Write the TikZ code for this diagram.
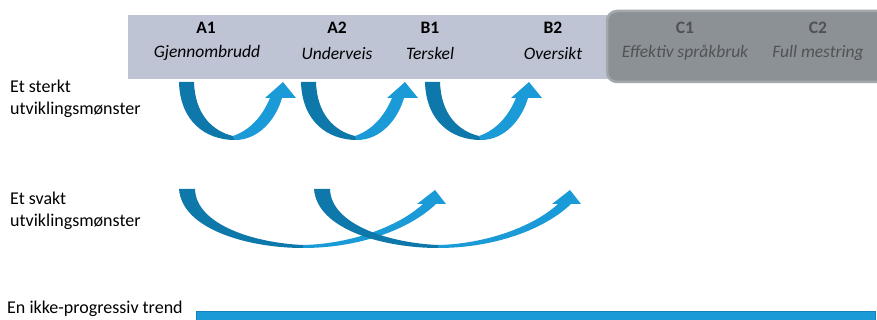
\documentclass[tikz,border=0pt]{standalone}
\usepackage{fontspec}
\setmainfont{Carlito}
\definecolor{bar}{RGB}{190,196,212}
\definecolor{cbox}{RGB}{140,145,150}
\definecolor{cboxedge}{RGB}{165,168,171}
\definecolor{ctext}{RGB}{80,82,85}
\definecolor{arrdark}{RGB}{14,120,170}
\definecolor{arrlight}{RGB}{26,155,215}
\tikzset{
  lvl/.style={font=\fontsize{17.5}{20}\selectfont\bfseries, text=black, inner sep=0pt},
  lvlname/.style={font=\fontsize{17.5}{20}\selectfont\itshape, text=black, inner sep=0pt},
  clvl/.style={lvl, text=ctext},
  clvlname/.style={lvlname, text=ctext},
  rowlabel/.style={font=\fontsize{18}{22}\selectfont, anchor=west, align=left, inner sep=0pt},
  darkpart/.style={fill=arrdark, draw=none},
  lightpart/.style={fill=arrlight, draw=none},
}
\begin{document}
\begin{tikzpicture}[x=1pt,y=-1pt]
\clip (0,0) rectangle (877,320);
\useasboundingbox (0,0) rectangle (877,320);
% header bar
\fill[bar] (128,15) rectangle (640,79);
\fill[cbox, draw=cboxedge, line width=2.5pt, rounded corners=10pt] (607,11) rectangle (890,82);
% header texts
\node[lvl] (a1) at (206,28) {A1};
\node[lvlname] (a1n) at (207,53) {Gjennombrudd};
\node[lvl] (a2) at (337,28) {A2};
\node[lvlname] (a2n) at (337,53) {Underveis};
\node[lvl] (b1) at (430,28) {B1};
\node[lvlname] (b1n) at (430,53) {Terskel};
\node[lvl] (b2) at (553,28) {B2};
\node[lvlname] (b2n) at (553,53) {Oversikt};
\node[clvl] (c1) at (685,28) {C1};
\node[clvlname] (c1n) at (685,53) {Effektiv språkbruk};
\node[clvl] (c2) at (818,28) {C2};
\node[clvlname] (c2n) at (818,53) {Full mestring};
% row labels
\node[rowlabel] (strong) at (10,99) {Et sterkt\\utviklingsmønster};
\node[rowlabel] (weak) at (10,211) {Et svakt\\utviklingsmønster};
\node[rowlabel] (flat) at (7,309) {En ikke-progressiv trend};
% strong arrows
\foreach \dx in {0,122,246}{
  \begin{scope}[xshift=\dx]
    \path[darkpart] (179,82) .. controls (180,121) and (205,140) .. (235,140)
      -- (233,136) .. controls (212,131) and (195,114) .. (194,82) -- cycle;
    \path[lightpart] (235,140) .. controls (259,140) and (276,119) .. (282,98)
      -- (296,98) -- (283,82) -- (265,98) -- (270,98)
      .. controls (262,117) and (250,130) .. (233,136) -- cycle;
  \end{scope}
}
% weak arrows
\foreach \dx in {0,135}{
  \begin{scope}[xshift=\dx]
    \path[darkpart] (179,189) .. controls (182,230) and (250,248) .. (303,248)
      -- (303,245) .. controls (255,243) and (196,225) .. (195,189) -- cycle;
    \path[lightpart] (303,248) .. controls (360,248) and (410,229) .. (436,204)
      -- (446,204) -- (435,190) -- (417,204) -- (423,204)
      .. controls (398,227) and (350,244) .. (303,245) -- cycle;
  \end{scope}
}
% flat bar
\fill[arrlight, draw=arrdark!70!arrlight, line width=0.8pt] (196,311) rectangle (875,330);
\end{tikzpicture}
\end{document}
